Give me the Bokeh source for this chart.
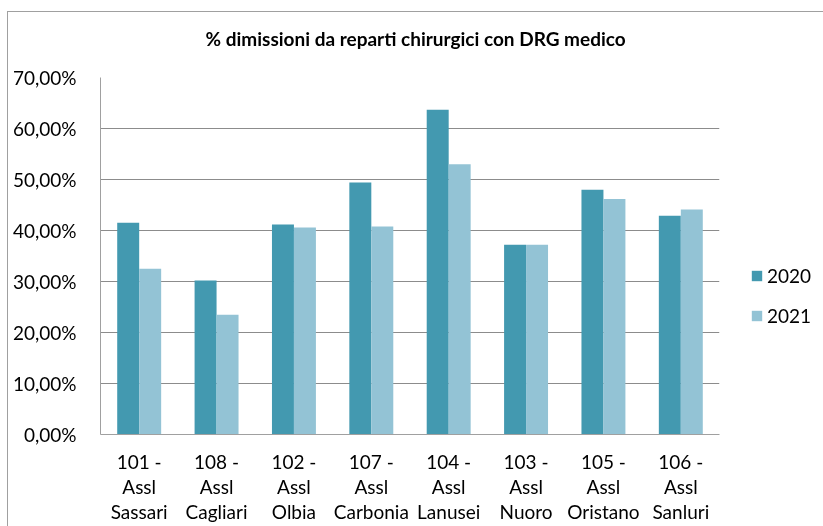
from bokeh.plotting import figure
from bokeh.models import (ColumnDataSource, FactorRange, Range1d, CustomJSTickFormatter,
                          Legend, LegendItem)
from bokeh.transform import dodge
from bokeh.embed import file_html
from bokeh.resources import INLINE

# ---- data ----
code_lines = ["101 -", "108 -", "102 -", "107 -", "104 -", "103 -", "105 -", "106 -"]
assl_lines = ["Assl", "Assl", "Assl", "Assl", "Assl", "Assl", "Assl", "Assl"]
name_lines = ["Sassari", "Cagliari", "Olbia", "Carbonia", "Lanusei", "Nuoro", "Oristano", "Sanluri"]
values_2020 = [41.5, 30.2, 41.2, 49.4, 63.7, 37.2, 48.0, 42.9]
values_2021 = [32.5, 23.5, 40.6, 40.8, 53.0, 37.2, 46.2, 44.1]
series_names = ["2020", "2021"]
y_ticks = [0, 10, 20, 30, 40, 50, 60, 70]
title_text = "% dimissioni da reparti chirurgici con DRG medico"

categories = [c + "\n" + a + "\n" + n for c, a, n in zip(code_lines, assl_lines, name_lines)]

FONT = "Lato"
C2020 = "#4399B0"
C2021 = "#93C3D5"

src = ColumnDataSource(dict(cat=categories, v2020=values_2020, v2021=values_2021))

p = figure(x_range=FactorRange(*categories, range_padding=0),
           y_range=Range1d(0, 70),
           frame_width=619, frame_height=357,
           min_border_left=105, min_border_right=140, min_border_top=78, min_border_bottom=130,
           output_backend="svg", toolbar_location=None, title=title_text)

r20 = p.vbar(x=dodge("cat", -0.142, range=p.x_range), top="v2020", width=0.284,
             source=src, fill_color=C2020, line_color=None)
r21 = p.vbar(x=dodge("cat", 0.142, range=p.x_range), top="v2021", width=0.284,
             source=src, fill_color=C2021, line_color=None)

# title
p.title.align = "left"
p.title.offset = 105
p.title.vertical_align = "top"
p.title.text_font = FONT
p.title.text_font_style = "bold"
p.title.text_font_size = "19px"
p.title.text_color = "#000000"
p.title.standoff = 52

# axes
p.yaxis.ticker = y_ticks
p.yaxis.formatter = CustomJSTickFormatter(code="return tick.toFixed(2).replace('.', ',') + '%';")
p.yaxis.major_label_standoff = 18
for ax in (p.xaxis, p.yaxis):
    ax.major_tick_line_color = None
    ax.minor_tick_line_color = None
    ax.axis_line_color = "#A0A0A0"
    ax.major_label_text_font = FONT
    ax.major_label_text_font_size = "19px"
    ax.major_label_text_color = "#000000"
p.xaxis.major_label_standoff = 9
p.xaxis.major_label_text_line_height = 1.09

p.xgrid.visible = False
p.ygrid.grid_line_color = "#8C8C8C"
p.outline_line_color = None
p.border_fill_color = None

legend = Legend(items=[LegendItem(label=series_names[0], renderers=[r20]),
                       LegendItem(label=series_names[1], renderers=[r21])],
                location=(31, 107), glyph_width=13, glyph_height=13, label_standoff=4,
                spacing=17, padding=0, margin=0, border_line_color=None,
                background_fill_alpha=0, label_text_font=FONT, label_text_font_size="19px",
                label_height=20, label_text_color="#000000")
p.add_layout(legend, "right")

p.styles = {"position": "fixed", "left": "-5px", "top": "-1px",
            "outline": "1px solid #A0A0A0", "outline-offset": "-13px"}

open("out.html", "w").write(file_html(p, INLINE))
